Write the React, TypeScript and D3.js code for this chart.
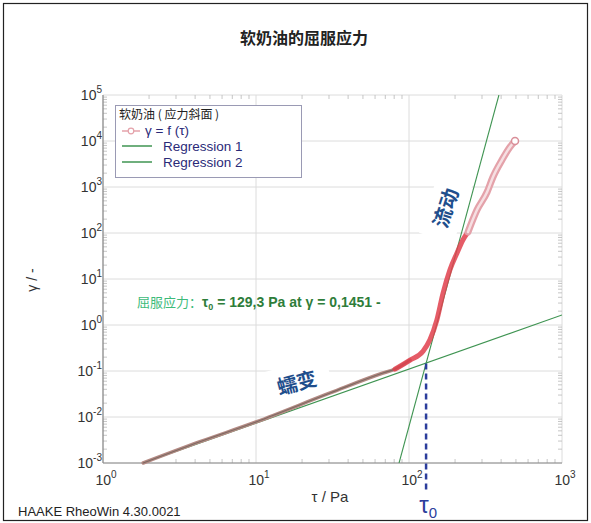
import React from 'react';
import * as d3 from 'd3';

const tauValues = [1.83, 4.3, 10, 30.5, 67.6, 81, 101.6, 123.5, 137, 152, 167, 185, 206, 225, 243, 278, 324, 354, 405, 457, 493];
const gammaValues = [0.001, 0.0029, 0.0078, 0.0333, 0.0905, 0.11, 0.173, 0.27, 0.48, 1.28, 4.96, 15.7, 36.7, 70.5, 105, 316, 778, 1650, 3860, 7410, 10000];

// regression lines (end points)
const regression1 = [[1.83, 0.001], [1000, 1.65]];
const regression2 = [[86.1, 0.001], [387, 100000]];

const yieldTau = 129.3;
const yieldGamma = 0.1451;

const xTickExps = [0, 1, 2, 3];
const yTickExps = [-3, -2, -1, 0, 1, 2, 3, 4, 5];

const W = 591;
const H = 523;
const LATIN = 'Liberation Sans, Arial, sans-serif';
const CJK = '"Noto Sans CJK SC", sans-serif';

const x = d3.scaleLog().domain([1, 1000]).range([103, 562]);
const y = d3.scaleLog().domain([1e-3, 1e5]).range([463, 95]);

const pts = tauValues.map((t, i) => [t, gammaValues[i]] as [number, number]);
const line = d3.line<[number, number]>().x(d => x(d[0])).y(d => y(d[1]));

const lowPart = pts.filter(d => d[0] <= 102);
const midPart = pts.filter(d => d[0] >= 81 && d[0] <= 250);
const highPart = pts.filter(d => d[0] >= 240);

// minor tick values for log axes
const minors = (lo: number, hi: number) => {
  const out: number[] = [];
  for (let e = lo; e < hi; e++) for (let m = 2; m <= 9; m++) out.push(m * Math.pow(10, e));
  return out;
};

const Pow = ({ exp, ...rest }: any) => (
  <text fontFamily={LATIN} fontSize={14} fill="#333" {...rest}>
    10<tspan fontSize={10} dy={-7}>{exp}</tspan>
  </text>
);

export default function App() {
  const [x0, x1] = x.range();
  const [yb, yt] = y.range();
  const regPath = (r: number[][]) => line.curve(d3.curveLinear)(r as [number, number][]);
  const curvePath = (p: [number, number][]) => line.curve(d3.curveMonotoneX)(p);

  return (
    <div style={{ position: 'fixed', left: 0, top: 0 }}>
      <svg width={W} height={H} style={{ display: 'block' }}>
        <rect x={0} y={0} width={W} height={H} fill="#fff" />
        <rect x={3.5} y={3.5} width={584} height={517} fill="none" stroke="#222" strokeWidth={1.2} />

        <text x={304} y={44} textAnchor="middle" fontFamily={CJK} fontWeight="bold" fontSize={16} fill="#222">
          软奶油的屈服应力
        </text>

        <defs>
          <clipPath id="plot">
            <rect x={x0} y={yt} width={x1 - x0} height={yb - yt} />
          </clipPath>
        </defs>

        {/* grid */}
        <g stroke="#dcdcdc" strokeWidth={1}>
          {xTickExps.map(e => (
            <line key={'gx' + e} x1={x(10 ** e)} x2={x(10 ** e)} y1={yt} y2={yb} />
          ))}
          {yTickExps.map(e => (
            <line key={'gy' + e} x1={x0} x2={x1} y1={y(10 ** e)} y2={y(10 ** e)} />
          ))}
        </g>

        {/* minor ticks */}
        <g stroke="#b8b8b8" strokeWidth={0.8}>
          {minors(0, 3).map(v => (
            <g key={'mx' + v}>
              <line x1={x(v)} x2={x(v)} y1={yb} y2={yb - 4} />
              <line x1={x(v)} x2={x(v)} y1={yt} y2={yt + 4} />
            </g>
          ))}
          {minors(-3, 5).map(v => (
            <g key={'my' + v}>
              <line x1={x0} x2={x0 + 4} y1={y(v)} y2={y(v)} />
              <line x1={x1} x2={x1 - 4} y1={y(v)} y2={y(v)} />
            </g>
          ))}
        </g>

        {/* axes */}
        <line x1={x0} x2={x0} y1={yt} y2={yb} stroke="#8a8a8a" strokeWidth={1.2} />
        <line x1={x0} x2={x1} y1={yb} y2={yb} stroke="#8a8a8a" strokeWidth={1.2} />

        {yTickExps.map(e => (
          <Pow key={'ly' + e} exp={e} x={102} y={y(10 ** e) + 5} textAnchor="end" />
        ))}
        {xTickExps.map(e => (
          <Pow key={'lx' + e} exp={e} x={x(10 ** e) + 3} y={485} textAnchor="middle" />
        ))}

        {/* labels on chart */}
        <g transform="translate(297,383) rotate(-15)">
          <rect x={-34} y={-19} width={68} height={38} fill="#fff" />
          <text x={0} y={7} textAnchor="middle" fontFamily={CJK} fontWeight="bold" fontSize={20} fill="#1f4e8c">
            蠕变
          </text>
        </g>
        <g transform="translate(446,208) rotate(-72)">
          <rect x={-32} y={-18} width={64} height={36} fill="#fff" />
          <text x={0} y={7} textAnchor="middle" fontFamily={CJK} fontWeight="bold" fontSize={20} fill="#1f4e8c">
            流动
          </text>
        </g>

        {/* regression lines */}
        <g clipPath="url(#plot)" fill="none" stroke="#3f9452" strokeWidth={1.1}>
          <path d={regPath(regression1) || ''} />
          <path d={regPath(regression2) || ''} />
        </g>

        {/* measured curve */}
        <g fill="none" strokeLinecap="round" strokeLinejoin="round">
          <path d={curvePath(lowPart) || ''} stroke="#b48a84" strokeWidth={3.5} />
          <path d={curvePath(lowPart) || ''} stroke="#7d6a62" strokeWidth={1.2} />
          <path d={curvePath(midPart) || ''} stroke="#e0404c" strokeWidth={5} opacity={0.85} />
          <path d={curvePath(highPart) || ''} stroke="#e4a2aa" strokeWidth={7} />
          <path d={curvePath(highPart) || ''} stroke="#f6dfe2" strokeWidth={2.5} />
          <circle cx={x(tauValues[tauValues.length - 1])} cy={y(gammaValues[gammaValues.length - 1])} r={3.5} fill="#fff" stroke="#d98e98" strokeWidth={1.5} />
        </g>

        {/* yield point marker */}
        <line x1={x(yieldTau)} x2={x(yieldTau)} y1={y(yieldGamma)} y2={492} stroke="#2c3e9c" strokeWidth={2.5} strokeDasharray="6,4" />
        <text x={x(yieldTau) + 2} y={513} textAnchor="middle" fontFamily={LATIN} fontSize={24} fill="#2c3e9c">
          τ<tspan fontSize={15} dy={5}>0</tspan>
        </text>

        {/* yield annotation */}
        <text x={137} y={307} fontSize={14} fontWeight="bold" fill="#2e7d3a" fontFamily={LATIN}>
          <tspan fontFamily={CJK} fontWeight="normal" fontSize={13} fill="#3dbb7a">屈服应力：</tspan>
          <tspan>τ</tspan>
          <tspan fontSize={9} dy={3}>0</tspan>
          <tspan dy={-3}>{`  = ${String(yieldTau).replace('.', ',')} Pa at  γ = ${String(yieldGamma).replace('.', ',')} -`}</tspan>
        </text>

        {/* legend */}
        <rect x={115.5} y={105.5} width={186} height={72} fill="#fff" stroke="#9a9ab4" strokeWidth={1} />
        <text x={119} y={119} fontFamily={CJK} fontSize={12} fill="#222">软奶油 ( 应力斜面 )</text>
        <line x1={122} x2={140} y1={131} y2={131} stroke="#e4a2aa" strokeWidth={1.5} />
        <circle cx={131} cy={131} r={2.8} fill="#fff" stroke="#e4a2aa" strokeWidth={1.2} />
        <text x={145} y={135} fontFamily={LATIN} fontSize={13.5} fill="#2a2a78">γ = f (τ)</text>
        <line x1={122} x2={152} y1={146} y2={146} stroke="#3f9452" strokeWidth={1.5} />
        <text x={163} y={151} fontFamily={LATIN} fontSize={13.5} fill="#2a2a78">Regression 1</text>
        <line x1={122} x2={152} y1={162} y2={162} stroke="#3f9452" strokeWidth={1.5} />
        <text x={163} y={167} fontFamily={LATIN} fontSize={13.5} fill="#2a2a78">Regression 2</text>

        {/* axis titles */}
        <text x={330} y={502} textAnchor="middle" fontFamily={LATIN} fontSize={15} fill="#333">τ / Pa</text>
        <text transform="translate(37,280) rotate(-90)" textAnchor="middle" fontFamily={LATIN} fontSize={14} fill="#333">γ / -</text>

        <text x={18} y={516} fontFamily={LATIN} fontSize={13} fill="#222">HAAKE RheoWin 4.30.0021</text>
      </svg>
    </div>
  );
}
